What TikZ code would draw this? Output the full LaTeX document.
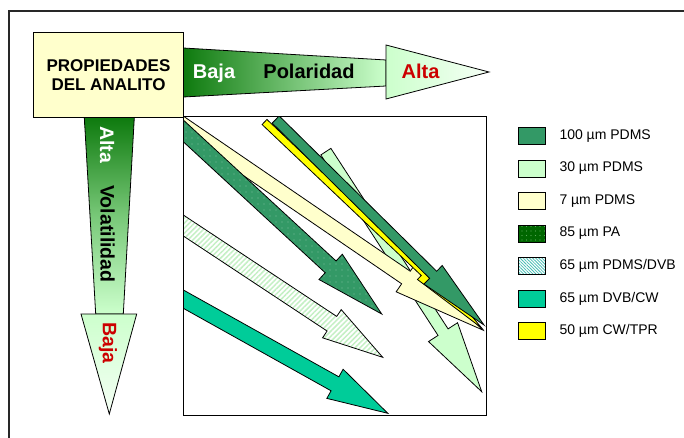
\documentclass[tikz,border=0pt]{standalone}
\usepackage{fontspec}
\setmainfont{Liberation Sans}
\usetikzlibrary{calc,patterns.meta}

\definecolor{pdmsdark}{RGB}{51,153,102}
\definecolor{pdmslight}{RGB}{204,255,204}
\definecolor{cream}{RGB}{255,255,204}
\definecolor{cwtpr}{RGB}{255,255,0}
\definecolor{dvbcw}{RGB}{0,204,153}
\definecolor{deepgreen}{RGB}{14,122,14}
\definecolor{midgreen}{RGB}{120,200,120}
\definecolor{palegreen}{RGB}{246,255,246}
\definecolor{labelred}{RGB}{204,0,0}
\definecolor{stripegreen}{RGB}{196,240,196}
\definecolor{padark}{RGB}{0,102,0}
\definecolor{padots}{RGB}{90,170,90}
\definecolor{hatchteal}{RGB}{70,190,180}
\definecolor{framegray}{RGB}{40,40,40}

% block arrow: style, tail, tip, shaft half width, head half width, head length
\newcommand\blockarrow[6]{%
  \coordinate (ba-head) at ($(#3)!#6!(#2)$);
  \path[#1] ($(#2)!#4!90:(#3)$) -- ($(ba-head)!#4!90:(#3)$) -- ($(ba-head)!#5!90:(#3)$)
    -- (#3) -- ($(ba-head)!#5!-90:(#3)$) -- ($(ba-head)!#4!-90:(#3)$)
    -- ($(#2)!#4!-90:(#3)$) -- cycle;
}

\begin{document}
\begin{tikzpicture}[x=1pt,y=-1pt,line join=miter,
  outline/.style={draw=black,line width=0.8pt},
  titletext/.style={font=\fontsize{17}{19}\selectfont\bfseries,inner sep=0pt,anchor=base},
  axistext/.style={font=\fontsize{20}{22}\selectfont\bfseries,inner sep=0pt,anchor=base},
  vaxistext/.style={font=\fontsize{19.5}{21}\selectfont\bfseries,inner sep=0pt,rotate=-90,anchor=center},
  legendtext/.style={font=\fontsize{14}{16}\selectfont,inner sep=0pt,anchor=west},
  legendbox/.style={draw=black,line width=0.8pt},
  padotted/.style={fill=pdmsdark,postaction={pattern={Dots[radius=0.45pt,distance=6pt]},pattern color=white},postaction={outline}},
  dvbstriped/.style={fill=white,postaction={pattern={Lines[angle=45,distance=3.6pt,line width=1.5pt]},pattern color=stripegreen},postaction={outline}},
  sw0/.style={fill=pdmsdark},
  sw1/.style={fill=pdmslight},
  sw2/.style={fill=cream},
  sw3/.style={fill=padark,postaction={pattern={Dots[radius=0.55pt,distance=4.5pt]},pattern color=padots}},
  sw4/.style={fill=white,postaction={pattern={Lines[angle=-45,distance=2.2pt,line width=0.8pt]},pattern color=hatchteal}},
  sw5/.style={fill=dvbcw},
  sw6/.style={fill=cwtpr}]

\useasboundingbox (0,0) rectangle (684,438);

% outer frame, running off the page on the right and at the bottom
\begin{scope}
  \clip (0,0) rectangle (684,438);
  \draw[framegray,line width=1.6pt] (8.7,460) -- (8.7,11) -- (720,11);
\end{scope}

% polarity axis
\shade[left color=deepgreen,right color=pdmslight,outline]
  (183.3,48) -- (386,60) -- (386,86) -- (183.3,97) -- cycle;
\shade[left color=pdmslight,right color=palegreen,outline]
  (386,45) -- (489,72) -- (386,99) -- cycle;
\node[axistext,text=white] (polbaja) at (214,79) {Baja};
\node[axistext,text=black] (polname) at (309,79) {Polaridad};
\node[axistext,text=labelred] (polalta) at (420.5,79) {Alta};

% volatility axis
\shade[top color=deepgreen,bottom color=pdmslight,middle color=midgreen,outline]
  (84.3,117.5) -- (134.3,117.5) -- (123.3,314) -- (95.7,314) -- cycle;
\shade[top color=pdmslight,bottom color=palegreen,outline]
  (81,314) -- (136.7,314) -- (109.3,414) -- cycle;
\node[vaxistext,text=white] (volalta) at (107,144.5) {Alta};
\node[vaxistext,text=black] (volname) at (107.5,234) {Volatilidad};
\node[vaxistext,text=labelred] (volbaja) at (108,343) {Baja};

% analyte properties box
\node[outline,fill=cream,minimum width=149.7pt,minimum height=85pt,inner sep=0pt] (props) at (108.45,74.5) {};
\node[titletext] (propsl1) at (108.5,71.7) {PROPIEDADES};
\node[titletext] (propsl2) at (108.5,90.7) {DEL ANALITO};

% fibre coatings map
\coordinate (mapnw) at (183.3,116.7);
\coordinate (mapse) at (486.7,415);
\begin{scope}
  \clip (mapnw) rectangle (mapse);
  % 30 um PDMS
  \coordinate (p30t) at (325.85,151.65);
  \coordinate (p30h) at (481.7,391.7);
  \blockarrow{fill=pdmslight,outline}{p30t}{p30h}{6pt}{17.3pt}{71pt}
  % 7 um PDMS
  \coordinate (p7t) at (170,116.2);
  \coordinate (p7h) at (482.7,330);
  \blockarrow{fill=cream,outline}{p7t}{p7h}{7.6pt}{17.3pt}{93pt}
  % 85 um PA
  \coordinate (pat) at (170,118.6);
  \coordinate (pah) at (381.7,314);
  \blockarrow{padotted}{pat}{pah}{8pt}{17.2pt}{69.5pt}
  % 65 um PDMS/DVB
  \coordinate (pdvbt) at (170,216.7);
  \coordinate (pdvbh) at (382.7,357.3);
  \blockarrow{dvbstriped}{pdvbt}{pdvbh}{8.75pt}{16.9pt}{60.9pt}
  % 65 um DVB/CW
  \coordinate (dvbt) at (170,291.7);
  \coordinate (dvbh) at (387.8,413.3);
  \blockarrow{fill=dvbcw,outline}{dvbt}{dvbh}{8pt}{16.7pt}{60.5pt}
  % 50 um CW/TPR
  \coordinate (cwt) at (264.5,122);
  \coordinate (cwh) at (481.7,328);
  \blockarrow{fill=cwtpr,outline}{cwt}{cwh}{3.5pt}{9pt}{80pt}
  % 100 um PDMS
  \coordinate (p100t) at (275.7,119.5);
  \coordinate (p100h) at (484,325);
  \blockarrow{fill=pdmsdark,outline}{p100t}{p100h}{5pt}{13pt}{71.5pt}
\end{scope}
\draw[black,line width=1pt] (mapnw) rectangle (mapse);

% legend
\foreach \i/\txt in {0/{100 µm PDMS},1/{30 µm PDMS},2/{7 µm PDMS},3/{85 µm PA},
                     4/{65 µm PDMS/DVB},5/{65 µm DVB/CW},6/{50 µm CW/TPR}} {
  \path[sw\i] (518.3,{127.5+32.5*\i}) rectangle (545,{144.5+32.5*\i});
  \draw[legendbox] (518.3,{127.5+32.5*\i}) rectangle (545,{144.5+32.5*\i});
  \node[legendtext] (leg\i) at (559.3,{136+32.5*\i}) {\txt};
}
\end{tikzpicture}
\end{document}
